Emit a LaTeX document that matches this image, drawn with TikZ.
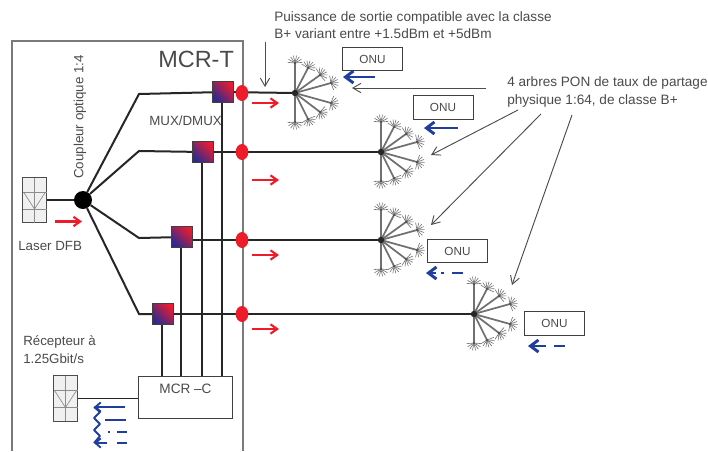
\documentclass[tikz,border=0pt]{standalone}
\usepackage{fontspec}
\setmainfont{Liberation Sans}
\usetikzlibrary{arrows.meta,backgrounds,calc,shapes.geometric}
\definecolor{txt}{HTML}{4A4A4A}
\definecolor{frame}{HTML}{7A7A7A}
\definecolor{redm}{HTML}{EC1C2A}
\definecolor{bluem}{HTML}{1F3F9F}
\definecolor{spoke}{HTML}{707070}
\definecolor{muxa}{HTML}{2E2A90}
\definecolor{muxb}{HTML}{A81C84}
\definecolor{muxc}{HTML}{E81C30}
\tikzset{
  lbl/.style={anchor=west,inner sep=0pt,text=txt,font=\fontsize{10.2}{12}\selectfont},
  lblsmall/.style={anchor=west,inner sep=0pt,text=txt,font=\fontsize{10}{12}\selectfont},
  onubox/.style={draw=black!75,line width=0.7pt,fill=white,minimum width=45pt,minimum height=17.5pt,inner sep=0pt,text=txt,font=\fontsize{8.8}{10}\selectfont},
  muxbox/.style={draw=black!75,line width=0.7pt,minimum size=15.5pt,inner sep=0pt,left color=muxa,middle color=muxb,right color=muxc,shading angle=135},
  redellipse/.style={ellipse,fill=redm,inner sep=0pt,minimum width=9.5pt,minimum height=12pt},
  fibre/.style={line width=1.5pt,black!85},
  leader/.style={line width=0.7pt,black!70,-{Straight Barb[length=6pt,width=7pt]}},
  redarrow/.style={line width=1.6pt,redm,-{Straight Barb[length=5pt,width=7pt,line width=1.6pt]}},
  bluearrow/.style={line width=2pt,bluem,-{Straight Barb[length=6pt,width=9pt,line width=2.2pt]}},
  bluedash/.style={line width=2pt,bluem},
}
\newcommand{\diodeicon}[2]{% name, centre
  \node[draw=black!70,line width=0.7pt,fill=black!6,minimum width=18.5pt,minimum height=34pt,inner sep=0pt] (#1) at (#2) {};
  \begin{scope}[shift={(#2)},draw=black!45,line width=0.5pt]
    \draw (0,-22.5) -- (0,22.5);
    \draw (-12,-8) -- (12,-8);
    \draw (-12,9) -- (12,9);
    \draw (-11,-8) -- (0,9) -- (11,-8);
  \end{scope}
}
\newcommand{\dandelion}[2]{% name, centre
  \coordinate (#1) at (#2);
  \begin{scope}[shift={(#2)}]
    \foreach \dx/\dy in {0/-30,13/-25,25/-18,36/-10,36/10,25/19,13/26,0/29}{
      \draw[spoke,line width=1.3pt] (0,0) -- (\dx,\dy);
      \pgfmathsetmacro\ang{atan2(\dy,\dx)}
      \foreach \o in {-85,-60,-35,-12,12,35,60,85}{
        \draw[spoke,line width=0.45pt] (\dx,\dy) -- ++(\ang+\o:7.5);
      }
      \fill[black!70] (\dx,\dy) circle (1.2);
    }
    \fill[black!85] (0,0) circle (3.2);
  \end{scope}
}
\begin{document}
\begin{tikzpicture}[x=0.75pt,y=-0.75pt]
\useasboundingbox (0,0) rectangle (708,451);
% frame
\coordinate (ftl) at (12,41); \coordinate (ftr) at (243,41);
\coordinate (fbl) at (12,451); \coordinate (fbr) at (243,451);
\draw[frame,line width=1.5pt] (fbl) -- (ftl) -- (ftr) -- (fbr);
\node[anchor=west,inner sep=0pt,text=txt,font=\fontsize{17.6}{20}\selectfont] (tmcrt) at (158,59) {MCR-T};
% main nodes
\node[circle,fill=black,minimum size=13.5pt,inner sep=0pt] (coupler) at (83,200) {};
\diodeicon{laser}{34.5,200}
\diodeicon{recv}{65.5,398.5}
\node[muxbox] (mux1) at (223,92) {};
\node[muxbox] (mux2) at (203,152) {};
\node[muxbox] (mux3) at (182,237) {};
\node[muxbox] (mux4) at (163,314) {};
\node[draw=black!75,line width=0.7pt,fill=white,minimum width=70.5pt,minimum height=31.5pt,inner sep=0pt] (mcrc) at (185,397) {};
\node[inner sep=0pt,text=txt,font=\fontsize{10.2}{12}\selectfont] (tmcrc) at (185.5,389) {MCR –C};
\node[redellipse] (e1) at (242,93) {};
\node[redellipse] (e2) at (242,152) {};
\node[redellipse] (e3) at (242,240) {};
\node[redellipse] (e4) at (242,314) {};
\coordinate (b1) at (139,94);
\coordinate (b2) at (139,151);
\coordinate (b3) at (139,238);
\coordinate (b4) at (139,314);
\coordinate (v1) at (222,376);
\coordinate (v2) at (202,376);
\coordinate (v3) at (181,376);
\coordinate (v4) at (162,376);
\begin{scope}[on background layer]
  \draw[fibre] (coupler) -- (b1) -- (mux1);
  \draw[fibre] (coupler) -- (b2) -- (mux2);
  \draw[fibre] (coupler) -- (b3) -- (mux3);
  \draw[fibre] (coupler) -- (b4) -- (mux4);
  \draw[fibre] (mux1.south -| v1) -- (v1);
  \draw[fibre] (mux2.south -| v2) -- (v2);
  \draw[fibre] (mux3.south -| v3) -- (v3);
  \draw[fibre] (mux4.south -| v4) -- (v4);
  \draw[line width=1pt,black!85] (laser.east) -- (coupler);
  \draw[line width=1pt,black!85] (recv.east) -- (recv.east -| mcrc.west);
\end{scope}
% trees
\dandelion{t1}{295,93}
\dandelion{t2}{381,152}
\dandelion{t3}{381,240}
\dandelion{t4}{474,314}
\begin{scope}[on background layer]
  \draw[fibre] (mux1) -- (t1);
  \draw[fibre] (mux2) -- (t2);
  \draw[fibre] (mux3.east |- t3) -- (t3);
  \draw[fibre] (mux4) -- (t4);
\end{scope}
% ONUs
\node[onubox] (o1) at (372.5,59) {ONU};
\node[onubox] (o2) at (443,107.5) {ONU};
\node[onubox] (o3) at (457.5,251) {ONU};
\node[onubox] (o4) at (554.5,323.5) {ONU};
% labels
\node[lbl] (t1a) at (274,17.5) {Puissance de sortie compatible avec la classe};
\node[lbl] (t1b) at (274,33.5) {B+ variant entre +1.5dBm et +5dBm};
\node[lbl] (t2a) at (507,83) {4 arbres PON de taux de partage};
\node[lbl] (t2b) at (507,100.5) {physique 1:64, de classe B+};
\node[lblsmall] (tmux) at (149,121) {MUX/DMUX};
\node[lblsmall] (tlaser) at (18,246) {Laser DFB};
\node[lblsmall] (trec1) at (23,342) {Récepteur à};
\node[lblsmall] (trec2) at (23,358.5) {1.25Gbit/s};
\node[lblsmall,rotate=90] (tcoup) at (80,179) {Coupleur optique 1:4};
% leaders
\coordinate (la) at (265,42); \coordinate (lae) at (265,87);
\coordinate (lb) at (486,88); \coordinate (lbe) at (352,88);
\coordinate (lc) at (518,110); \coordinate (lce) at (431,155);
\coordinate (ld) at (541,114); \coordinate (lde) at (431,225);
\coordinate (lf) at (572,115); \coordinate (lfe) at (512,285);
\draw[leader] (la) -- (lae);
\draw[leader] (lb) -- (lbe);
\draw[leader] (lc) -- (lce);
\draw[leader] (ld) -- (lde);
\draw[leader] (lf) -- (lfe);
% red arrows
\draw[redarrow] (55,221.5) -- (82,221.5);
\draw[redarrow] (252,103) -- (279,103);
\draw[redarrow] (252,180) -- (279,180);
\draw[redarrow] (252,255) -- (279,255);
\draw[redarrow] (252,329) -- (279,329);
% blue arrows
\draw[bluearrow] (375,77) -- (343,77);
\draw[bluearrow] (458,128) -- (424,128);
\draw[bluearrow] (436,273) -- (426,273);
\draw[bluedash] (441,273) -- (444,273);
\draw[bluedash] (452,273) -- (463,273);
\draw[bluearrow] (546,346) -- (528,346);
\draw[bluedash] (554,346) -- (565,346);
% receiver arrows
\draw[bluem,line width=1.4pt,-{Straight Barb[length=4pt,width=7pt,line width=1.4pt]}] (125,407) -- (94,407);
\draw[bluem,line width=1.6pt] (105,420) -- (126,420);
\draw[bluem,line width=1.6pt] (108,432) -- (110,432);
\draw[bluem,line width=1.6pt] (117,432) -- (127,432);
\draw[bluem,line width=1.4pt,-{Straight Barb[length=4pt,width=7pt,line width=1.4pt]}] (107,443) -- (94,443);
\draw[bluem,line width=1.6pt] (117,443) -- (127,443);
\draw[bluem,line width=1.4pt,line join=round] (94,407) -- (100,412) -- (94,418) -- (100,424) -- (94,430) -- (100,436) -- (94,443);
\end{tikzpicture}
\end{document}
